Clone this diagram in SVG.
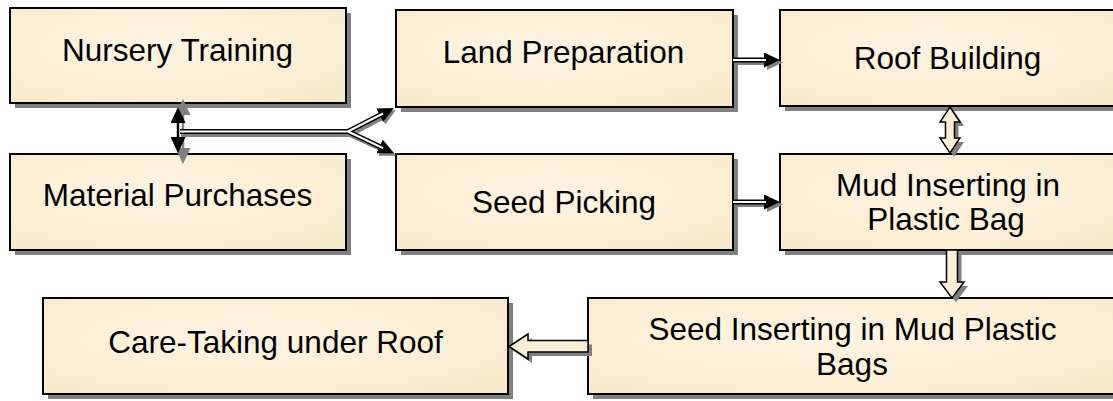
<svg xmlns="http://www.w3.org/2000/svg" width="1113" height="401" viewBox="0 0 1113 401">
  <defs>
    <radialGradient id="parch" cx="0.45" cy="0.4" r="0.75">
      <stop offset="0" stop-color="#FEF4E2"/>
      <stop offset="0.6" stop-color="#FCEFD6"/>
      <stop offset="1" stop-color="#F9E9CB"/>
    </radialGradient>
    <marker id="ah" viewBox="0 0 16 15" refX="6" refY="7.5" markerWidth="16" markerHeight="15" markerUnits="userSpaceOnUse" orient="auto">
      <path d="M0,0 L16,7.5 L0,15 Z" fill="#000"/>
    </marker>
    <marker id="ahs" viewBox="0 0 16 15" refX="6" refY="7.5" markerWidth="16" markerHeight="15" markerUnits="userSpaceOnUse" orient="auto">
      <path d="M0,0 L16,7.5 L0,15 Z" fill="#808080"/>
    </marker>
    <marker id="ahv" viewBox="0 0 16 15" refX="2" refY="7.5" markerWidth="16" markerHeight="15" markerUnits="userSpaceOnUse" orient="auto-start-reverse">
      <path d="M0,0 L16,7.5 L0,15 Z" fill="#000"/>
    </marker>
    <marker id="ahvs" viewBox="0 0 16 15" refX="2" refY="7.5" markerWidth="16" markerHeight="15" markerUnits="userSpaceOnUse" orient="auto-start-reverse">
      <path d="M0,0 L16,7.5 L0,15 Z" fill="#808080"/>
    </marker>
  </defs>
  <style>
    .shadow { fill: #808080; }
    .box { fill: url(#parch); stroke: #000; stroke-width: 2; }
    .lbl { font-family: "Liberation Sans", Arial, sans-serif; font-size: 31.5px; fill: #000; text-anchor: middle; }
    .dl-out { fill: none; stroke: #000; stroke-width: 5; }
    .dl-in { fill: none; stroke: #fff; stroke-width: 2; }
    .dl-sh { fill: none; stroke: #808080; stroke-width: 5; }
    .blk { fill: #FCEFD6; stroke: #000; stroke-width: 1.5; stroke-linejoin: miter; }
    .blk-sh { fill: #808080; }
  </style>

  <g id="node-nursery-training">
    <rect class="shadow" x="15" y="13" width="336" height="95"/>
    <rect class="box" x="10" y="8" width="336" height="95"/>
    <text class="lbl" x="177.5" y="61">Nursery Training</text>
  </g>
  <g id="node-material-purchases">
    <rect class="shadow" x="15" y="159" width="336" height="96"/>
    <rect class="box" x="10" y="154" width="336" height="96"/>
    <text class="lbl" x="177.5" y="206">Material Purchases</text>
  </g>
  <g id="node-land-preparation">
    <rect class="shadow" x="401" y="15" width="337" height="97"/>
    <rect class="box" x="396" y="10" width="337" height="97"/>
    <text class="lbl" x="563.5" y="63">Land Preparation</text>
  </g>
  <g id="node-seed-picking">
    <rect class="shadow" x="401" y="159" width="337" height="96"/>
    <rect class="box" x="396" y="154" width="337" height="96"/>
    <text class="lbl" x="564" y="213">Seed Picking</text>
  </g>
  <g id="node-roof-building">
    <rect class="shadow" x="785" y="15" width="345" height="96"/>
    <rect class="box" x="780" y="10" width="345" height="96"/>
    <text class="lbl" x="947.5" y="69">Roof Building</text>
  </g>
  <g id="node-mud-inserting">
    <rect class="shadow" x="785" y="159" width="345" height="96"/>
    <rect class="box" x="780" y="154" width="345" height="96"/>
    <text class="lbl" x="948" y="196">Mud Inserting in</text>
    <text class="lbl" x="946" y="230">Plastic Bag</text>
  </g>
  <g id="node-care-taking">
    <rect class="shadow" x="48" y="303" width="465" height="96"/>
    <rect class="box" x="43" y="298" width="465" height="96"/>
    <text class="lbl" x="275.5" y="353">Care-Taking under Roof</text>
  </g>
  <g id="node-seed-inserting">
    <rect class="shadow" x="593" y="303" width="540" height="96"/>
    <rect class="box" x="588" y="298" width="540" height="96"/>
    <text class="lbl" x="852.5" y="340">Seed Inserting in Mud Plastic</text>
    <text class="lbl" x="852" y="375">Bags</text>
  </g>

  <g id="connectors">
    <line x1="183" y1="113" x2="183" y2="150" stroke="#808080" stroke-width="2.5" marker-start="url(#ahvs)" marker-end="url(#ahvs)"/>
    <line x1="178" y1="121" x2="178" y2="139" stroke="#000" stroke-width="2.5" marker-start="url(#ahv)" marker-end="url(#ahv)"/>

    <path class="dl-sh" d="M181,134.5 H350 L387,115" marker-end="url(#ahs)"/>
    <path class="dl-sh" d="M350,134.5 L387,151.5" marker-end="url(#ahs)"/>
    <path class="dl-out" d="M180,131.5 H348 L385,112.5" marker-end="url(#ah)"/>
    <path class="dl-out" d="M348,131.5 L385,149" marker-end="url(#ah)"/>
    <path class="dl-in" d="M180,131.5 H348 L383,113.5"/>
    <path class="dl-in" d="M348,131.5 L383,148.1"/>

    <path class="dl-sh" d="M736,62.5 H773" marker-end="url(#ahs)"/>
    <path class="dl-out" d="M733,60 H770" marker-end="url(#ah)"/>
    <path class="dl-in" d="M733,60 H766"/>

    <path class="dl-sh" d="M736,204.5 H773" marker-end="url(#ahs)"/>
    <path class="dl-out" d="M733,202 H770" marker-end="url(#ah)"/>
    <path class="dl-in" d="M733,202 H766"/>

    <polygon class="blk-sh" points="954,111 964,126 958.5,126 958.5,142 964,142 954,157 944,142 949.5,142 949.5,126 944,126"/>
    <polygon class="blk" points="950,107 960,122 954.5,122 954.5,138 960,138 950,153 940,138 945.5,138 945.5,122 940,122"/>

    <polygon class="blk-sh" points="950.5,254 961.5,254 961.5,286 968,286 956,302 944,286 950.5,286"/>
    <polygon class="blk" points="946.5,250 957.5,250 957.5,282 964,282 952,298 940,282 946.5,282"/>

    <polygon class="blk-sh" points="513,350.5 532,338 532,344.5 592,344.5 592,356 532,356 532,363"/>
    <polygon class="blk" points="509,346.5 528,334 528,340.5 588,340.5 588,352 528,352 528,359"/>
  </g>
</svg>
